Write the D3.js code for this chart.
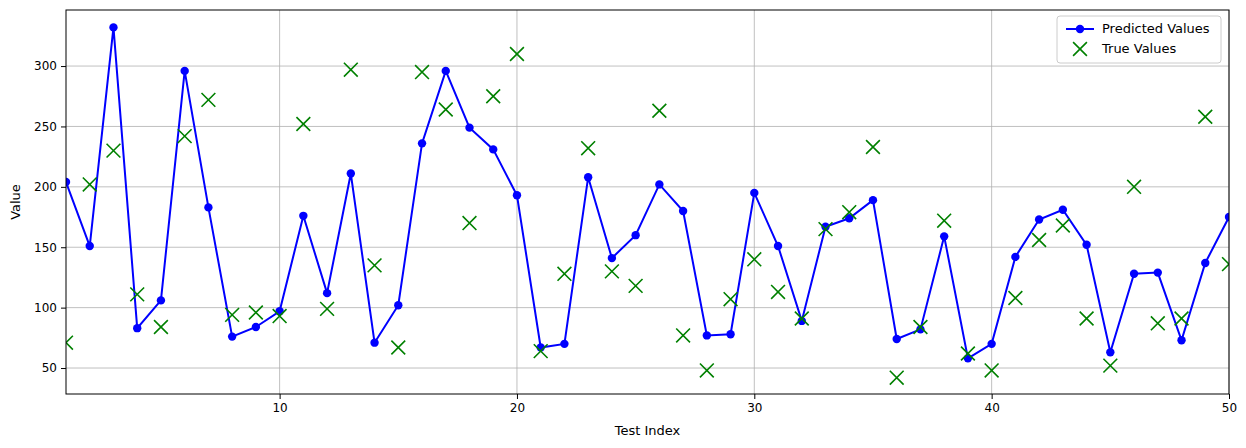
<!DOCTYPE html>
<html><head><meta charset="utf-8">
<script src="https://cdn.jsdelivr.net/npm/d3@7"></script>
<style>body{margin:0;background:#fff}svg{font-family:"DejaVu Sans",sans-serif}</style>
</head><body><svg id="c" width="1246" height="448"></svg>
<script>
const xTicks=[10,20,30,40,50];
const yTicks=[50,100,150,200,250,300];
const predicted=[204,151,332,83,106,296,183,76,84,97,176,112,211,71,102,236,296,249,231,193,67,70,208,141,160,202,180,77,78,195,151,89,167,174,189,74,82,159,58,70,142,173,181,152,63,128,129,73,137,175];
const trueVals=[71,202,230,111,84,242,272,94,96,93,252,99,297,135,67,295,264,170,275,310,64,128,232,130,118,263,77,48,107,140,113,91,165,179,233,42,84,172,62,48,108,156,168,91,52,200,87,91,258,136];
const idx=predicted.map((d,i)=>i+1);
const L=66,R=1229,T=10,B=394;
const svg=d3.select("#c");
const x=d3.scaleLinear().domain([1,50]).range([L,R]);
const y=d3.scaleLinear().domain([28.5,346.4]).range([B,T]);
const clip=svg.append("defs").append("clipPath").attr("id","cp").append("rect").attr("x",L).attr("y",T).attr("width",R-L).attr("height",B-T);
const g=svg.append("g");
g.selectAll(".gx").data(xTicks).join("line").attr("x1",d=>x(d)).attr("x2",d=>x(d)).attr("y1",T).attr("y2",B).attr("stroke","#b0b0b0").attr("stroke-width",0.8);
g.selectAll(".gy").data(yTicks).join("line").attr("y1",d=>y(d)).attr("y2",d=>y(d)).attr("x1",L).attr("x2",R).attr("stroke","#b0b0b0").attr("stroke-width",0.8);
const p=svg.append("g").attr("clip-path","url(#cp)");
p.append("path").datum(idx).attr("fill","none").attr("stroke","blue").attr("stroke-width",2)
 .attr("d",d3.line().x(i=>x(i)).y(i=>y(predicted[i-1])));
p.selectAll("circle").data(idx).join("circle").attr("cx",i=>x(i)).attr("cy",i=>y(predicted[i-1])).attr("r",4.2).attr("fill","blue");
const s=6.9;
p.selectAll(".tx").data(idx).join("path").attr("stroke","green").attr("stroke-width",1.6).attr("fill","none")
 .attr("d",i=>{const cx=x(i),cy=y(trueVals[i-1]);return `M${cx-s},${cy-s}L${cx+s},${cy+s}M${cx-s},${cy+s}L${cx+s},${cy-s}`});
svg.append("g").attr("transform",`translate(0,${B})`).call(d3.axisBottom(x).tickValues(xTicks).tickSize(5).tickPadding(4)).call(a=>a.select(".domain").remove()).attr("font-size",12).attr("font-family","DejaVu Sans");
svg.append("g").attr("transform",`translate(${L},0)`).call(d3.axisLeft(y).tickValues(yTicks).tickSize(5).tickPadding(4)).call(a=>a.select(".domain").remove()).attr("font-size",12).attr("font-family","DejaVu Sans");
svg.append("rect").attr("x",L).attr("y",T).attr("width",R-L).attr("height",B-T).attr("fill","none").attr("stroke","#000").attr("stroke-width",1);
svg.append("text").attr("x",(L+R)/2).attr("y",435).attr("text-anchor","middle").attr("font-size",13).text("Test Index");
svg.append("text").attr("transform",`translate(20,${(T+B)/2}) rotate(-90)`).attr("text-anchor","middle").attr("font-size",13).text("Value");
const lg=svg.append("g");
lg.append("rect").attr("x",1057).attr("y",16).attr("width",164).attr("height",47).attr("rx",3).attr("fill","#fff").attr("fill-opacity",0.8).attr("stroke","#ccc");
lg.append("line").attr("x1",1066).attr("x2",1094).attr("y1",29).attr("y2",29).attr("stroke","blue").attr("stroke-width",2);
lg.append("circle").attr("cx",1080).attr("cy",29).attr("r",4.2).attr("fill","blue");
lg.append("path").attr("d",`M${1080-s},${49-s}L${1080+s},${49+s}M${1080-s},${49+s}L${1080+s},${49-s}`).attr("stroke","green").attr("stroke-width",1.6);
lg.append("text").attr("x",1102).attr("y",33).attr("font-size",13).text("Predicted Values");
lg.append("text").attr("x",1102).attr("y",53).attr("font-size",13).text("True Values");
</script></body></html>
